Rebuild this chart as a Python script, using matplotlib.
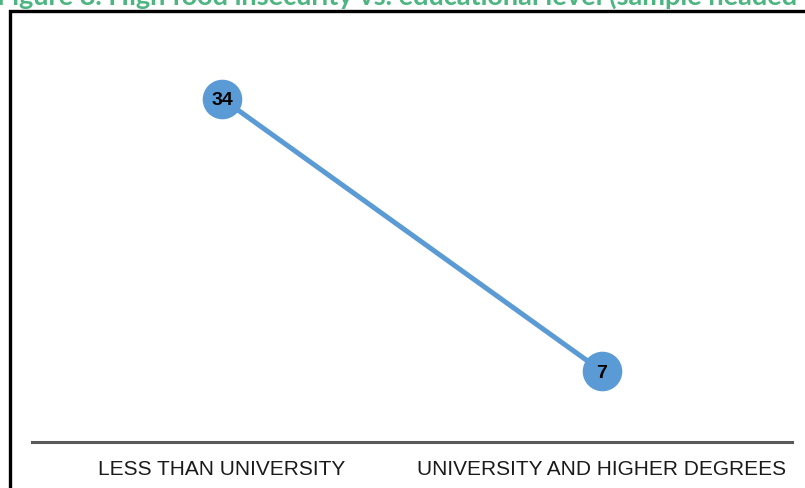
import matplotlib.pyplot as plt
from matplotlib.patches import Rectangle

# data
categories = ['LESS THAN UNIVERSITY', 'UNIVERSITY AND HIGHER DEGREES']
values = [34, 7]
title = 'Figure 8. High food insecurity vs. educational level (sample headed by women)'

W, H, DPI = 805, 488, 100
fig = plt.figure(figsize=(W / DPI, H / DPI), dpi=DPI)

# axes box in pixels: x 32..792, y(axis line) at 442 from top
ax = fig.add_axes([32 / W, 46 / H, 760 / W, 404 / H])
xs = list(range(len(categories)))
ax.plot(xs, values, color='#5b9bd5', lw=3.6, zorder=2, solid_capstyle='butt')
ax.plot(xs, values, 'o', ms=27.5, color='#5b9bd5', mec='#5b9bd5', zorder=3)
for x, v in zip(xs, values):
    ax.text(x, v, str(v), ha='center', va='center_baseline', fontsize=14,
            fontweight='bold', family='Liberation Sans', color='black', zorder=4)

ax.set_xlim(-0.5, 1.5)
ax.set_ylim(0, 40)
for s in ['top', 'right', 'left']:
    ax.spines[s].set_visible(False)
ax.spines['bottom'].set_color('#595959')
ax.spines['bottom'].set_linewidth(2.2)
ax.set_yticks([])
ax.set_xticks(xs)
ax.set_xticklabels(categories, family='Liberation Sans', fontsize=15, color='#1a1a1a')
ax.tick_params(axis='x', length=0, pad=13)

# outer frame (only the top and left edges show)
fig.patches.append(Rectangle((9.5 / W, -0.1), 1.2, (H - 11) / H + 0.1,
                             transform=fig.transFigure, fill=False,
                             ec='black', lw=2.4, zorder=0))

# title cut off at the top edge, as in the source
fig.text(-0.004, (H - 5) / H, title, ha='left', va='baseline', fontsize=19.5,
         fontweight='bold', family='Lato', color='#4cb580')

fig.savefig('out.png', dpi=DPI)
